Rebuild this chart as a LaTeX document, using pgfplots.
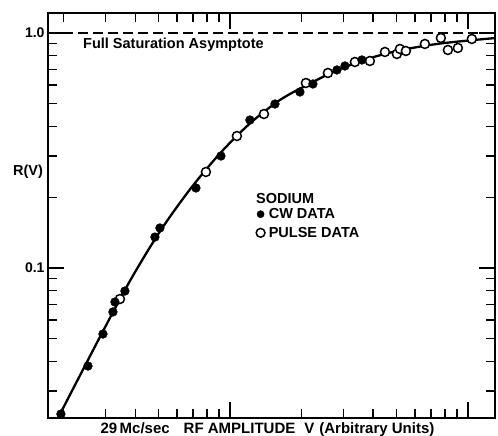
\documentclass[border=0pt]{standalone}
\usepackage{fontspec}
\setmainfont{Liberation Sans}
\usepackage{pgfplots}
\pgfplotsset{compat=1.18}
\usetikzlibrary{calc}

\newcommand{\lbl}{\fontsize{14.5}{17}\selectfont\bfseries}

\begin{document}
\begin{tikzpicture}
\begin{loglogaxis}[
  scale only axis,
  width=447pt, height=405pt,
  xmin=1.72, xmax=130,
  ymin=0.023, ymax=1.216,
  xtick={10,100}, xticklabels={},
  minor xtick={2,3,4,5,6,7,8,9,20,30,40,50,60,70,80,90},
  ytick={0.1,1}, yticklabels={0.1,1.0},
  minor ytick={0.03,0.04,0.05,0.06,0.07,0.08,0.09,0.2,0.3,0.4,0.5,0.6,0.7,0.8,0.9},
  major tick length=16pt, minor tick length=9pt,
  tick align=inside,
  every tick/.style={black, line width=1.4pt},
  axis line style={line width=2.2pt},
  yticklabel style={font=\fontsize{14}{16}\selectfont\bfseries},
  clip=false,
  legend style={draw=none, fill=none, at={(0.4653,0.523)}, anchor=north west,
    font=\lbl, inner sep=0pt, row sep=3pt},
  legend cell align=left,
  reverse legend,
]
% fitted curve
\addplot[black, line width=2.3pt, smooth, tension=0.5, forget plot] coordinates {
  (1.894,0.02299) (2.843,0.05086) (3.800,0.08806) (5.079,0.1430) (6.789,0.2158)
  (9.078,0.3071) (12.13,0.4120) (16.23,0.5187) (21.69,0.6097) (28.99,0.7027)
  (38.74,0.7812) (51.80,0.8433) (76.26,0.9014) (129.8,0.9512)};
% saturation asymptote
\addplot[black, line width=1.5pt, dash pattern=on 10pt off 5pt, forget plot]
  coordinates {(1.72,1) (130,1)};
% pulse data
\addplot[only marks, mark=*, mark size=4.5pt, black,
  mark options={fill=white, line width=1.5pt},
  legend image code/.code={\draw[black, line width=1.4pt, fill=white] plot[mark=*, mark size=4.4pt] coordinates {(4pt,0pt)}; \path (0pt,0pt) (10pt,0pt);}]
  coordinates {
  (3.450,0.07380) (7.929,0.2562) (10.70,0.3644) (13.90,0.4520) (20.86,0.6126)
  (25.81,0.6757) (33.51,0.7526) (38.74,0.7601) (44.81,0.8302) (50.30,0.8141)
  (51.80,0.8549) (54.89,0.8384) (65.95,0.8979) (77.00,0.9522) (82.41,0.8465)
  (90.78,0.8633) (103.9,0.9429)};
% cw data
\addplot[only marks, mark=*, mark size=4.4pt, black,
  legend image code/.code={\fill[black] plot[mark=*, mark size=3.6pt] coordinates {(4pt,0pt)}; \path (0pt,0pt) (10pt,0pt);}]
  coordinates {
  (1.949,0.02391) (2.532,0.03828) (2.927,0.05237) (3.224,0.06500) (3.287,0.07166)
  (3.621,0.07980) (4.839,0.1354) (5.079,0.1480) (7.197,0.2190) (9.167,0.2996)
  (12.13,0.4263) (15.46,0.4986) (19.69,0.5609) (22.32,0.6067) (28.16,0.6959)
  (30.43,0.7237) (35.86,0.7675)};
\legend{PULSE DATA, CW DATA}
\node[anchor=west, inner sep=0pt, font=\lbl] at (rel axis cs:0.0783,0.921) {Full Saturation Asymptote};
\node[anchor=west, inner sep=0pt, font=\lbl] at (rel axis cs:0.4653,0.543) {SODIUM};
\node[inner sep=0pt, font=\lbl, xshift=-20pt] at (rel axis cs:0,0.607) {R(V)};
\node[inner sep=0pt, font=\fontsize{15}{17}\selectfont\bfseries, yshift=-12pt] at (rel axis cs:0.491,0)
  {29\,Mc/sec\hspace{14pt}RF AMPLITUDE\hspace{9pt}V\hspace{5pt}(Arbitrary Units)};
\coordinate (sw) at (rel axis cs:0,0);
\coordinate (ne) at (rel axis cs:1,1);
\end{loglogaxis}
\pgfresetboundingbox
\path ($(sw)+(-48pt,-18pt)$) rectangle ($(ne)+(3pt,13pt)$);
\end{tikzpicture}
\end{document}
